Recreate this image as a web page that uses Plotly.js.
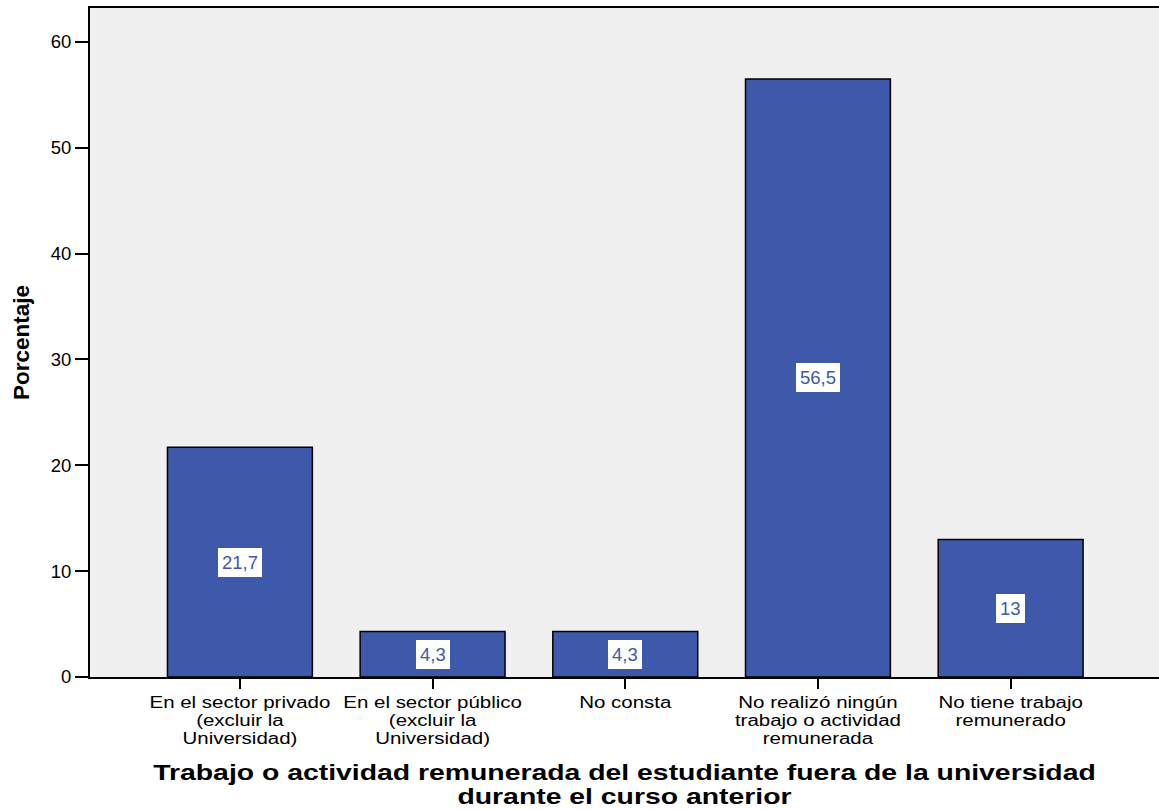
<!DOCTYPE html>
<html>
<head>
<meta charset="utf-8">
<script src="https://cdn.plot.ly/plotly-3.0.1.min.js"></script>
<style>
html,body{margin:0;padding:0;background:#fff;overflow:hidden;}
#chart{width:1159px;height:810px;}
</style>
</head>
<body>
<div id="chart"></div>
<script>
var categories = [
  "En el sector privado<br>(excluir la<br>Universidad)",
  "En el sector público<br>(excluir la<br>Universidad)",
  "No consta",
  "No realizó ningún<br>trabajo o actividad<br>remunerada",
  "No tiene trabajo<br>remunerado"
];
var percentages = [21.7, 4.3, 4.3, 56.5, 13];
var yTickValues = [0, 10, 20, 30, 40, 50, 60];
var xTitle = "Trabajo o actividad remunerada del estudiante fuera de la universidad<br>durante el curso anterior";
var yTitle = "Porcentaje";

var barColor = "#3e58aa";
var labelColor = "#3e58aa";
var FONT = "Liberation Sans, Arial, sans-serif";

function fmt(v){ return String(v).replace('.', ','); }

var xIdx = categories.map(function(c,i){return i;});

var data = [{
  type: 'bar',
  x: xIdx,
  y: percentages,
  marker: {color: barColor, line: {color: '#000', width: 1.5}},
  hoverinfo: 'none'
}];

var annotations = percentages.map(function(v,i){
  return {
    x: i, y: v/2, xref: 'x', yref: 'y',
    text: fmt(v), showarrow: false,
    bgcolor: '#ffffff', borderpad: 4, borderwidth: 0,
    font: {family: FONT, size: 18.5, color: labelColor}
  };
});

var layout = {
  width: 1159, height: 810,
  margin: {l: 90, r: 0, t: 8, b: 133},
  paper_bgcolor: '#ffffff',
  plot_bgcolor: '#f0f0f0',
  bargap: 0.248,
  showlegend: false,
  xaxis: {
    range: [-0.778, 4.77],
    tickmode: 'array', tickvals: xIdx, ticktext: categories,
    ticks: 'outside', ticklen: 10, tickwidth: 2, tickcolor: '#000',
    showline: true, linecolor: '#000', linewidth: 2, mirror: true,
    showgrid: false, zeroline: false, fixedrange: true,
    tickfont: {family: FONT, size: 16, color: '#000'},
    title: {text: xTitle, font: {family: FONT, size: 22, color: '#000', weight: 'bold'}, standoff: 18},
    automargin: false
  },
  yaxis: {
    range: [0, 63.2],
    tickmode: 'array', tickvals: yTickValues, ticktext: yTickValues.map(String),
    ticks: 'outside', ticklen: 13, tickwidth: 2, tickcolor: '#000',
    showline: true, linecolor: '#000', linewidth: 2, mirror: true,
    showgrid: false, zeroline: false, fixedrange: true,
    tickfont: {family: FONT, size: 18.5, color: '#000'},
    title: {text: yTitle, font: {family: FONT, size: 22.5, color: '#000', weight: 'bold'}, standoff: 15},
    automargin: false
  },
  annotations: annotations
};

function squeezeLines(nodes, factor){
  nodes.forEach(function(t){
    var dy = t.getAttribute('dy');
    if (dy && dy.indexOf('em') > 0) t.setAttribute('dy', (parseFloat(dy)*factor) + 'em');
  });
}
function stretchX(textNode, s, shiftY){
  var x = parseFloat(textNode.getAttribute('x')) || 0;
  var tr = textNode.getAttribute('transform') || '';
  textNode.setAttribute('transform', tr + ' translate(' + x + ',' + (shiftY || 0) + ') scale(' + s + ',1) translate(' + (-x) + ',0)');
}

Plotly.newPlot('chart', data, layout, {staticPlot: true, displayModeBar: false}).then(function(gd){
  squeezeLines(gd.querySelectorAll('.xtick text tspan.line'), 1.12/1.3);
  squeezeLines(gd.querySelectorAll('.g-xtitle text tspan.line'), 1.08/1.3);
  gd.querySelectorAll('.xtick text').forEach(function(t){ stretchX(t, 1.28, 0); });
  gd.querySelectorAll('.g-xtitle text').forEach(function(t){ stretchX(t, 1.29, 4); });
});
</script>
</body>
</html>
